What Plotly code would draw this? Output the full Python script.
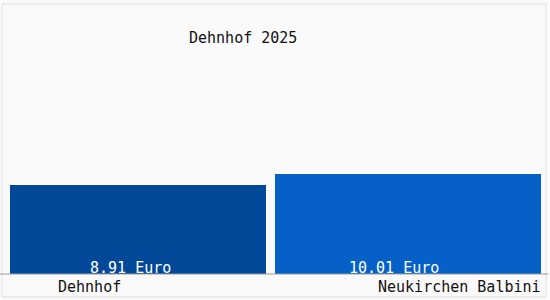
import plotly.graph_objects as go

categories = ["Dehnhof", "Neukirchen Balbini"]
values = [8.91, 10.01]
value_labels = ["8.91 Euro", "10.01 Euro"]
bar_colors = ["#024899", "#0561c7"]
title_text = "Dehnhof 2025"

FONT = "DejaVu Sans Mono"

fig = go.Figure()
fig.add_trace(go.Bar(
    x=categories, y=values,
    width=[256 / 270, 266 / 270],
    marker=dict(color=bar_colors, line=dict(width=0)),
    hoverinfo="skip",
))

# value labels inside the bars, near the base
for cat, v, lab, xs in zip(categories, values, value_labels, [-8, -14]):
    fig.add_annotation(x=cat, y=0, xref="x", yref="y", text=lab, showarrow=False,
                       xanchor="center", yanchor="middle", yshift=6, xshift=xs,
                       font=dict(family=FONT, size=15, color="white"))

# category labels
fig.add_annotation(x=0.161, y=-0.052, xref="paper", yref="paper", text=categories[0],
                   showarrow=False, xanchor="center", yanchor="middle",
                   font=dict(family=FONT, size=15, color="#111"))
fig.add_annotation(x=1.0, y=-0.052, xref="paper", yref="paper", text=categories[1],
                   showarrow=False, xanchor="right", yanchor="middle",
                   font=dict(family=FONT, size=15, color="#111"))

# title
fig.add_annotation(x=0.444, y=0.944, xref="paper", yref="paper", text=title_text,
                   showarrow=False, xanchor="center", yanchor="middle",
                   font=dict(family=FONT, size=15, color="#111"))

# frame and baseline
fig.add_shape(type="rect", xref="paper", yref="paper", x0=-0.0019, x1=1.0056, y0=-0.092, y1=1.08,
              line=dict(color="#e0e0e0", width=1), fillcolor="rgba(0,0,0,0)", layer="below")
fig.add_shape(type="line", xref="paper", yref="paper", x0=-0.006, x1=1.01, y0=0, y1=0,
              line=dict(color="#9a9a9a", width=1))

fig.update_layout(
    width=550, height=300,
    margin=dict(l=3, r=7, t=24, b=26),
    paper_bgcolor="#fafafa", plot_bgcolor="#fafafa",
    showlegend=False,
    xaxis=dict(showticklabels=False, showgrid=False, zeroline=False, showline=False,
               range=[-0.5, 1.5]),
    yaxis=dict(range=[0, 25], showticklabels=False, showgrid=False, zeroline=False, showline=False),
)

fig.write_html("out.html")
